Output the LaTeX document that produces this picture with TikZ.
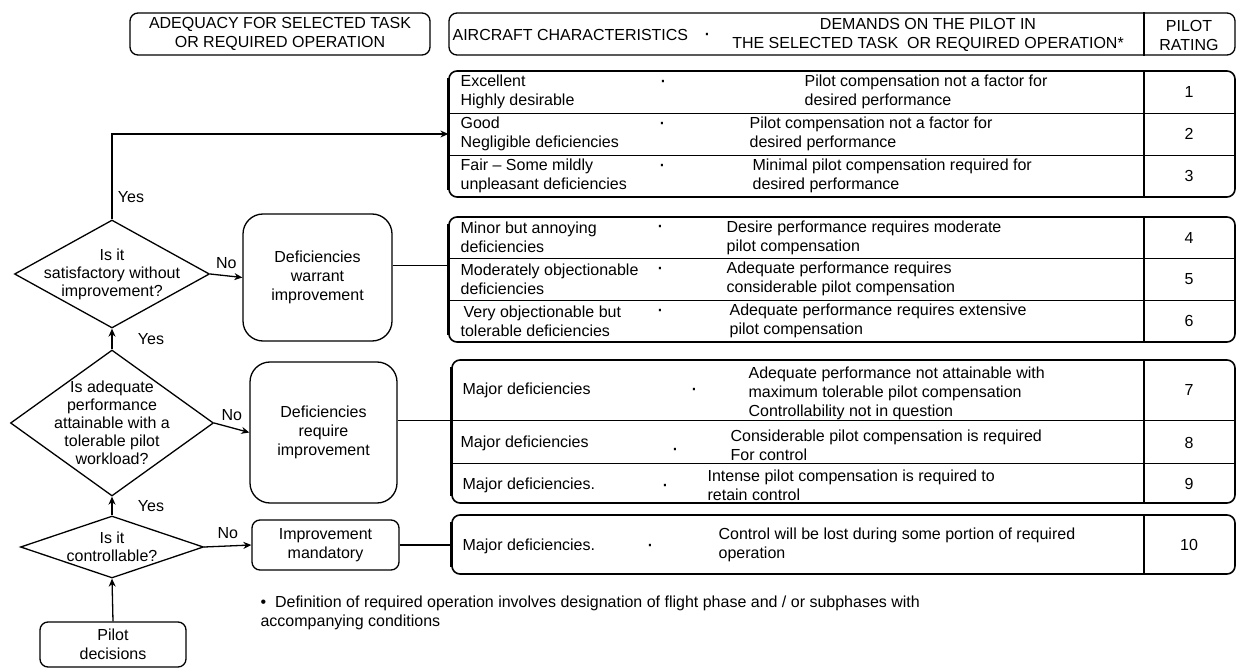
\documentclass[tikz,border=0pt]{standalone}
\usepackage{fontspec}
\setmainfont{Liberation Sans}
\usepackage{xcolor}
\usepackage{tikz}
\usetikzlibrary{shapes, arrows, arrows.meta, positioning}

\begin{document}
\begin{tikzpicture}[
        x=1pt, y=-1pt,
        font=\fontsize{16}{19}\selectfont,
        line width=1.2pt,
        header/.style={rectangle, draw, rounded corners=8pt, line width=1.3pt, minimum height=42pt},
        group/.style={rectangle, draw, rounded corners=8pt, line width=1.6pt},
        row/.style={rectangle, inner sep=0pt},
        cell/.style={anchor=west, align=left, inner sep=0pt},
        rating/.style={inner sep=0pt},
        sep/.style={font=\fontsize{22}{22}\selectfont},
        decision/.style={diamond, draw, inner sep=0pt, line width=1.3pt},
        qtext/.style={align=center, font=\fontsize{16}{18}\selectfont},
        process/.style={rectangle, draw, rounded corners=20pt, line width=1.3pt, align=center},
        small/.style={rectangle, draw, rounded corners=8pt, line width=1.3pt, align=center},
        arrow/.style={line width=1.3pt,->,>={Stealth[length=8pt,width=7pt]}}
    ]
    \useasboundingbox (0,0) rectangle (1237,668);

    % headers
    \node [header, minimum width=300pt, align=center] (adequacyhdr) at (280,34) {ADEQUACY FOR SELECTED TASK\\OR REQUIRED OPERATION};
    \node [header, minimum width=786pt] (charhdr) at (842,34) {};
    \coordinate (colsep) at (1144,0);
    \draw (charhdr.north -| colsep) -- (charhdr.south -| colsep);
    \node [cell] (charlbl) at (452,35) {AIRCRAFT CHARACTERISTICS};
    \node [sep] (hdrdot) at (707,37) {·};
    \node [align=center] (demandshdr) at (928,35) {DEMANDS ON THE PILOT IN\\THE SELECTED TASK\ \ OR REQUIRED OPERATION*};
    \node [align=center] (ratinghdr) at (1189,35) {PILOT\\RATING};

    % rating groups
    \node [group, minimum width=786pt, minimum height=126pt] (g1) at (842,134) {};
    \node [group, minimum width=786pt, minimum height=125pt] (g2) at (842,279.5) {};
    \node [group, minimum width=783pt, minimum height=143pt] (g3) at (843.5,431.5) {};
    \node [group, minimum width=783pt, minimum height=59pt] (g4) at (843.5,544.5) {};

    \node [row, minimum width=786pt, minimum height=42pt] (r1) at (842,92) {};
    \node [row, minimum width=786pt, minimum height=42pt] (r2) at (842,134) {};
    \node [row, minimum width=786pt, minimum height=41.5pt] (r4) at (842,237.5) {};
    \node [row, minimum width=786pt, minimum height=42pt] (r5) at (842,279) {};
    \node [row, minimum width=783pt, minimum height=60pt] (r7) at (843.5,390) {};
    \node [row, minimum width=783pt, minimum height=43pt] (r8) at (843.5,441.5) {};

    \draw (r1.south west) -- (r1.south east);
    \draw (r2.south west) -- (r2.south east);
    \draw (r4.south west) -- (r4.south east);
    \draw (r5.south west) -- (r5.south east);
    \draw (r7.south west) -- (r7.south east);
    \draw (r8.south west) -- (r8.south east);
    \foreach \g in {g1,g2,g3,g4}{
        \draw (\g.north -| colsep) -- (\g.south -| colsep);
        \draw [line width=2.6pt] ([yshift=-8pt]\g.north west) -- ([yshift=8pt]\g.south west);
    }

    % rows 1-3
    \node [cell] (c1a) at (460,92) {Excellent\\Highly desirable};
    \node [sep] (d1) at (663,84) {·};
    \node [cell] (c1b) at (804,92) {Pilot compensation not a factor for\\desired performance};
    \node [rating] (n1) at (1189,92) {1};

    \node [cell] (c2a) at (460,134) {Good\\Negligible deficiencies};
    \node [sep] (d2) at (662,126) {·};
    \node [cell] (c2b) at (749,134) {Pilot compensation not a factor for\\desired performance};
    \node [rating] (n2) at (1189,134) {2};

    \node [cell] (c3a) at (460,176) {Fair – Some mildly\\unpleasant deficiencies};
    \node [sep] (d3) at (662,168) {·};
    \node [cell] (c3b) at (752,176) {Minimal pilot compensation required for\\desired performance};
    \node [rating] (n3) at (1189,176) {3};

    % rows 4-6
    \node [cell] (c4a) at (460,237.5) {Minor but annoying\\deficiencies};
    \node [sep] (d4) at (660,229) {·};
    \node [cell] (c4b) at (726,237.5) {Desire performance requires moderate\\pilot compensation};
    \node [rating] (n4) at (1189,237.5) {4};

    \node [cell] (c5a) at (460,279) {Moderately objectionable\\deficiencies};
    \node [sep] (d5) at (660,271) {·};
    \node [cell] (c5b) at (726,279) {Adequate performance requires\\considerable pilot compensation};
    \node [rating] (n5) at (1189,279) {5};

    \node [cell] (c6a) at (460,321) {\hspace{3pt}Very objectionable but\\tolerable deficiencies};
    \node [sep] (d6) at (660,313) {·};
    \node [cell] (c6b) at (729,321) {Adequate performance requires extensive\\pilot compensation};
    \node [rating] (n6) at (1189,321) {6};

    % rows 7-10
    \node [cell] (c7a) at (462,390) {Major deficiencies};
    \node [sep] (d7) at (694,392) {·};
    \node [cell] (c7b) at (748,393) {Adequate performance not attainable with\\maximum tolerable pilot compensation\\Controllability not in question};
    \node [rating] (n7) at (1189,390) {7};

    \node [cell] (c8a) at (460,443) {Major deficiencies};
    \node [sep] (d8) at (675,452) {·};
    \node [cell] (c8b) at (730,445) {Considerable pilot compensation is required\\For control};
    \node [rating] (n8) at (1189,443) {8};

    \node [cell] (c9a) at (462,485) {Major deficiencies.};
    \node [sep] (d9) at (665,488) {·};
    \node [cell] (c9b) at (707,485) {Intense pilot compensation is required to\\retain control};
    \node [rating] (n9) at (1189,484) {9};

    \node [cell] (c10a) at (462,546) {Major deficiencies.};
    \node [sep] (d10) at (650,548) {·};
    \node [cell] (c10b) at (718,545) {Control will be lost during some portion of required\\operation};
    \node [rating] (n10) at (1189,545) {10};

    % decision chain
    \node [decision, minimum width=195pt, minimum height=108pt,
        label={[qtext]center:{Is it\\satisfactory without\\improvement?}}] (satisf) at (112,274) {};
    \node [decision, minimum width=203pt, minimum height=146pt,
        label={[qtext]center:{Is adequate\\performance\\attainable with a\\tolerable pilot\\workload?}}] (adequ) at (112,423) {};
    \node [decision, minimum width=183pt, minimum height=62pt,
        label={[qtext]center:{Is it\\controllable?}}] (control) at (112,547) {};
    \node [small, minimum width=146pt, minimum height=45pt] (pilot) at (113,644.5) {Pilot\\decisions};

    \node [process, minimum width=149pt, minimum height=127pt] (warrant) at (317.5,277.5) {Deficiencies\\warrant\\improvement};
    \node [process, minimum width=147pt, minimum height=141pt] (require) at (323.5,432.5) {Deficiencies\\require\\improvement};
    \node [small, minimum width=147pt, minimum height=50pt] (mandatory) at (325.5,545) {Improvement\\mandatory};

    \draw [arrow] (satisf.north) |- node[pos=0.13, right=2pt] {Yes} (r2.west);
    \draw [arrow] (satisf.east) -- node[above=3pt] {No} (warrant.west);
    \draw ([yshift=12pt]warrant.east) -- ([yshift=12pt]warrant.east -| g2.west);
    \draw [arrow] (adequ.north) -- node[right=22pt] {Yes} (satisf.south);
    \draw [arrow] (adequ.east) -- node[above=3pt] {No} (require.west);
    \draw (require.east |- r7.south) -- (r7.south west);
    \draw [arrow] (control.north) -- node[right=22pt] {Yes} (adequ.south);
    \draw [arrow] (control.east) -- node[above=3pt] {No} (mandatory.west);
    \draw (mandatory.east) -- (mandatory.east -| g4.west);
    \draw [arrow] (pilot.north) -- (control.south);

    \node [cell] (footnote) at (260,613) {•\ \ Definition of required operation involves designation of flight phase and / or subphases with\\accompanying conditions};

    \end{tikzpicture}
\end{document}
